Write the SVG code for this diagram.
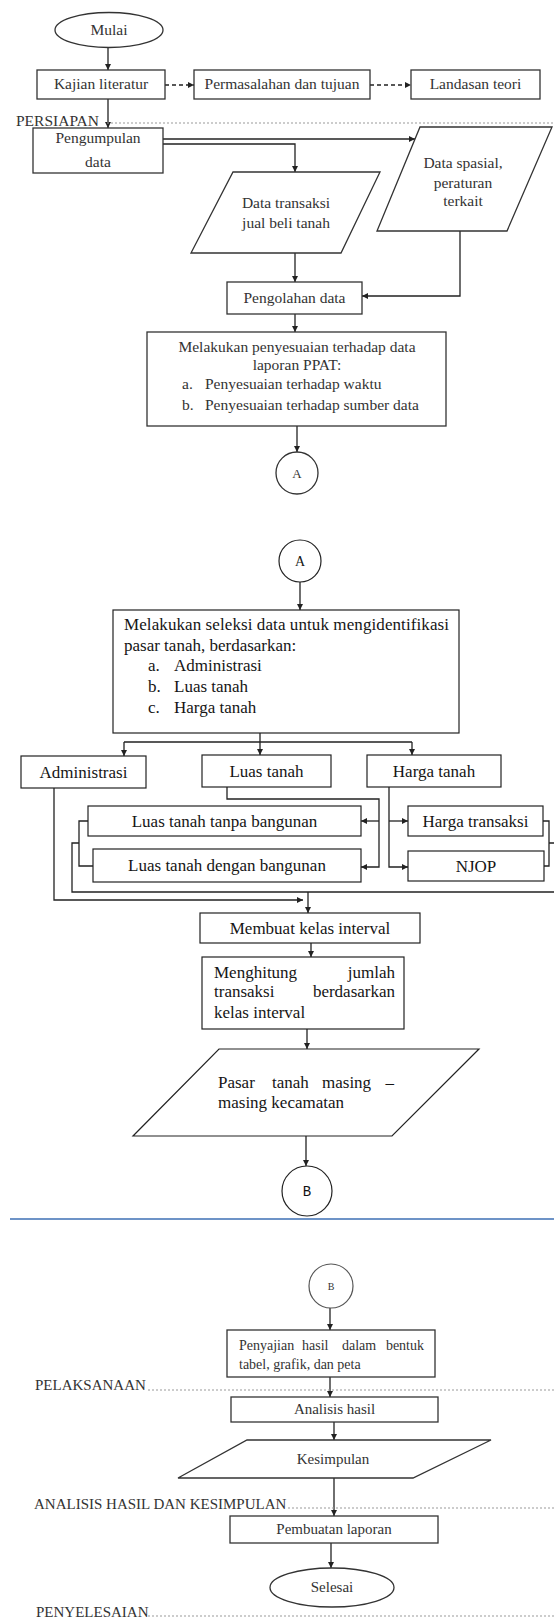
<svg xmlns="http://www.w3.org/2000/svg" width="554" height="1618" viewBox="0 0 554 1618">
<style>
.bg{fill:#fff}
.box{fill:#fff;stroke:#333;stroke-width:1.3}
.boxm{fill:#fff;stroke:#222;stroke-width:1.2}
.boxf{fill:#fff;stroke:#555;stroke-width:1.2}
.t{font-family:"Liberation Serif",serif;font-size:15.5px;fill:#333}
.tb{font-family:"Liberation Serif",serif;font-size:15px;fill:#333}
.tm{font-family:"Liberation Serif",serif;font-size:17px;fill:#151515}
.c{text-anchor:middle}
.e{text-anchor:end}
.conn{fill:none;stroke:#222;stroke-width:1.3}
.dash{stroke-dasharray:4 3}
.dot{fill:none;stroke:#999;stroke-width:1;stroke-dasharray:2 2}
.blue{fill:none;stroke:#3c6fb5;stroke-width:1.6}
</style>
<defs>
<marker id="arr" viewBox="0 0 10 10" refX="10" refY="5" markerWidth="7" markerHeight="6" markerUnits="userSpaceOnUse" orient="auto">
<path d="M0,0 L10,5 L0,10 z" fill="#222"/>
</marker>
</defs>
<rect class="bg" x="0" y="0" width="554" height="1618"/>

<g id="connectors">
<path class="conn" d="M108,47.5 V70" marker-end="url(#arr)"/>
<path class="conn dash" d="M165,85 H194" marker-end="url(#arr)"/>
<path class="conn dash" d="M370,85 H411" marker-end="url(#arr)"/>
<path class="conn" d="M108,99 V128" marker-end="url(#arr)"/>
<path class="conn" d="M163,139 H415" marker-end="url(#arr)"/>
<path class="conn" d="M163,144 H295 V172" marker-end="url(#arr)"/>
<path class="conn" d="M295,253 V282" marker-end="url(#arr)"/>
<path class="conn" d="M460,231 V296 H362" marker-end="url(#arr)"/>
<path class="conn" d="M295,314 V332" marker-end="url(#arr)"/>
<path class="conn" d="M297,426 V452" marker-end="url(#arr)"/>

<path class="conn" d="M300,582 V610" marker-end="url(#arr)"/>
<path class="conn" d="M260,733 V742 M124,742 H412"/>
<path class="conn" d="M124,742 V756" marker-end="url(#arr)"/>
<path class="conn" d="M260,742 V755" marker-end="url(#arr)"/>
<path class="conn" d="M412,742 V755" marker-end="url(#arr)"/>
<path class="conn" d="M227,787 V799 H379 V867 H361" marker-end="url(#arr)"/>
<path class="conn" d="M379,821 H361" marker-end="url(#arr)"/>
<path class="conn" d="M389,787 V867 H408" marker-end="url(#arr)"/>
<path class="conn" d="M389,821 H408" marker-end="url(#arr)"/>
<path class="conn" d="M543,821 H549 V866 H544 M549,843 H554"/>
<path class="conn" d="M88,821 H79 V866 H93 M79,843 H72 V892 H554"/>
<path class="conn" d="M54,788 V900 H303" marker-end="url(#arr)"/>
<path class="conn" d="M308,892 V913" marker-end="url(#arr)"/>
<path class="conn" d="M311,943 V957" marker-end="url(#arr)"/>
<path class="conn" d="M307,1029 V1049" marker-end="url(#arr)"/>
<path class="conn" d="M306,1136 V1166" marker-end="url(#arr)"/>

<path class="conn" d="M330,1308 V1330" marker-end="url(#arr)"/>
<path class="conn" d="M330,1377 V1397" marker-end="url(#arr)"/>
<path class="conn" d="M334,1422 V1440" marker-end="url(#arr)"/>
<path class="conn" d="M334,1478 V1516" marker-end="url(#arr)"/>
<path class="conn" d="M331,1543 V1568" marker-end="url(#arr)"/>
</g>

<g id="dividers">
<path class="dot" d="M107,123 H554"/>
<path class="blue" d="M10,1219 H554"/>
<path class="dot" d="M148,1390 H554"/>
<path class="dot" d="M288,1508 H554"/>
<path class="dot" d="M148,1616 H554"/>
<text class="t" x="16" y="126">PERSIAPAN</text>
<text class="tb" x="35" y="1390">PELAKSANAAN</text>
<text class="tb" x="34" y="1509">ANALISIS HASIL DAN KESIMPULAN</text>
<text class="tb" x="36" y="1617">PENYELESAIAN</text>
</g>

<g id="mulai"><ellipse class="box" cx="109" cy="30" rx="54" ry="17.5"/><text class="t c" x="109" y="35">Mulai</text></g>
<g id="kajian"><rect class="box" x="37" y="70" width="128" height="29"/><text class="t c" x="101" y="89">Kajian literatur</text></g>
<g id="permasalahan"><rect class="box" x="194" y="70" width="176" height="29"/><text class="t c" x="282" y="89">Permasalahan dan tujuan</text></g>
<g id="landasan"><rect class="box" x="411" y="70" width="129" height="29"/><text class="t c" x="475.5" y="89">Landasan teori</text></g>
<g id="pengumpulan"><rect class="box" x="33" y="128" width="130" height="45"/><text class="t c" x="98" y="143">Pengumpulan</text><text class="t c" x="98" y="167">data</text></g>
<g id="data-transaksi"><polygon class="box" points="233,172 380,172 341,253 191,253"/><text class="t c" x="286" y="208">Data transaksi</text><text class="t c" x="286" y="228">jual beli tanah</text></g>
<g id="data-spasial"><polygon class="box" points="420,127 552,127 507,231 377,231"/><text class="t c" x="463" y="168">Data spasial,</text><text class="t c" x="463" y="188">peraturan</text><text class="t c" x="463" y="206">terkait</text></g>
<g id="pengolahan"><rect class="box" x="227" y="282" width="135" height="32"/><text class="t c" x="294.5" y="303">Pengolahan data</text></g>
<g id="penyesuaian"><rect class="box" x="147" y="332" width="299" height="94"/>
<text class="t c" x="297" y="352">Melakukan penyesuaian terhadap data</text>
<text class="t c" x="297" y="370">laporan PPAT:</text>
<text class="t" x="182" y="389">a.</text><text class="t" x="205" y="389">Penyesuaian terhadap waktu</text>
<text class="t" x="182" y="410">b.</text><text class="t" x="205" y="410">Penyesuaian terhadap sumber data</text></g>
<g id="con-a1"><circle class="box" cx="297" cy="473" r="21"/><text class="t c" x="297" y="478" style="font-size:13px">A</text></g>

<g id="con-a2"><circle class="boxm" cx="300" cy="561" r="21"/><text class="tm c" x="300" y="566" style="font-size:14px">A</text></g>
<g id="seleksi"><rect class="boxm" x="113" y="610" width="346" height="123"/>
<text class="tm" x="124" y="630" textLength="325" lengthAdjust="spacing">Melakukan seleksi data untuk mengidentifikasi</text>
<text class="tm" x="124" y="651">pasar tanah, berdasarkan:</text>
<text class="tm" x="148" y="671">a.</text><text class="tm" x="174" y="671">Administrasi</text>
<text class="tm" x="148" y="692">b.</text><text class="tm" x="174" y="692">Luas tanah</text>
<text class="tm" x="148" y="713">c.</text><text class="tm" x="174" y="713">Harga tanah</text></g>
<g id="administrasi"><rect class="boxm" x="21" y="756" width="125" height="32"/><text class="tm c" x="83.5" y="778">Administrasi</text></g>
<g id="luas-tanah"><rect class="boxm" x="202" y="755" width="129" height="32"/><text class="tm c" x="266.5" y="777">Luas tanah</text></g>
<g id="harga-tanah"><rect class="boxm" x="367" y="755" width="134" height="32"/><text class="tm c" x="434" y="777">Harga tanah</text></g>
<g id="lt-tanpa"><rect class="boxm" x="88" y="806" width="273" height="30"/><text class="tm c" x="224.5" y="827">Luas tanah tanpa bangunan</text></g>
<g id="lt-dengan"><rect class="boxm" x="93" y="849" width="268" height="33"/><text class="tm c" x="227" y="871">Luas tanah dengan bangunan</text></g>
<g id="harga-transaksi"><rect class="boxm" x="408" y="806" width="135" height="30"/><text class="tm c" x="475.5" y="827">Harga transaksi</text></g>
<g id="njop"><rect class="boxm" x="408" y="851" width="136" height="30"/><text class="tm c" x="476" y="872">NJOP</text></g>
<g id="kelas-interval"><rect class="boxm" x="200" y="913" width="220" height="30"/><text class="tm c" x="310" y="934">Membuat kelas interval</text></g>
<g id="menghitung"><rect class="boxm" x="202" y="957" width="202" height="72"/>
<text class="tm" x="214" y="978">Menghitung</text><text class="tm e" x="395" y="978">jumlah</text>
<text class="tm" x="214" y="997">transaksi</text><text class="tm e" x="395" y="997">berdasarkan</text>
<text class="tm" x="214" y="1018">kelas interval</text></g>
<g id="pasar-tanah"><polygon class="boxm" points="219,1049 479,1049 392,1136 133,1136"/>
<text class="tm" x="218" y="1088">Pasar</text><text class="tm" x="272" y="1088">tanah</text><text class="tm" x="322" y="1088">masing</text><text class="tm e" x="394" y="1088">–</text>
<text class="tm" x="218" y="1108">masing kecamatan</text></g>
<g id="con-b1"><circle class="boxm" cx="307" cy="1191" r="25"/><text class="c" x="307" y="1196" style="font-family:'Liberation Mono',monospace;font-size:14px;fill:#111">B</text></g>

<g id="con-b2"><circle class="boxf" cx="331" cy="1286" r="22"/><text class="tb c" x="331" y="1290" style="font-size:10px">B</text></g>
<g id="penyajian"><rect class="box" x="227" y="1330" width="208" height="47"/>
<text class="tb" x="239" y="1350" style="font-size:14px">Penyajian</text><text class="tb" x="302" y="1350" style="font-size:14px">hasil</text><text class="tb" x="342" y="1350" style="font-size:14px">dalam</text><text class="tb e" x="424" y="1350" style="font-size:14px">bentuk</text>
<text class="tb" x="239" y="1369" style="font-size:14px">tabel, grafik, dan peta</text></g>
<g id="analisis"><rect class="box" x="231" y="1397" width="207" height="25"/><text class="tb c" x="334.5" y="1414">Analisis hasil</text></g>
<g id="kesimpulan"><polygon class="box" points="247,1440 491,1440 413,1478 178,1478"/><text class="tb c" x="333" y="1464">Kesimpulan</text></g>
<g id="pembuatan"><rect class="box" x="230" y="1516" width="208" height="27"/><text class="tb c" x="334" y="1534">Pembuatan laporan</text></g>
<g id="selesai"><ellipse class="box" cx="332" cy="1587.5" rx="62" ry="19.5"/><text class="tb c" x="332" y="1592">Selesai</text></g>
</svg>
